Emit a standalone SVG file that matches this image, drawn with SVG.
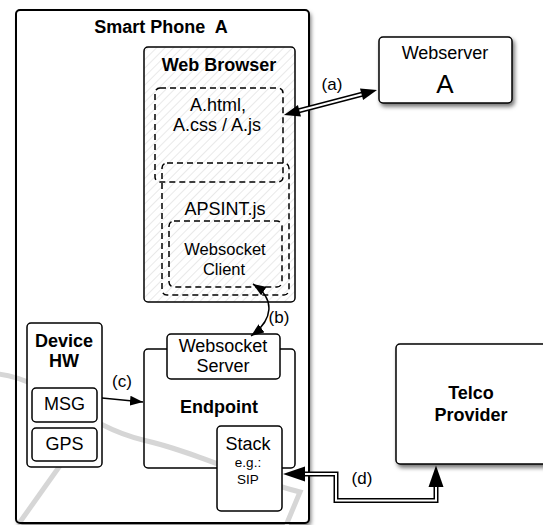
<svg xmlns="http://www.w3.org/2000/svg" width="543" height="525" viewBox="0 0 543 525">
<style>
  .box{fill:#fff;stroke:#000;stroke-width:1.5}
  .dash{fill:none;stroke:#000;stroke-width:1.5;stroke-dasharray:6,4}
  .t{font-family:"Liberation Sans",Arial,sans-serif;font-size:18px;fill:#000;text-anchor:middle}
  .b{font-weight:bold}
  .s{font-size:13.5px}
  .m{font-size:16.5px}
  .line{fill:none;stroke:#000;stroke-width:1.5}
  .dbl-o{fill:none;stroke:#000;stroke-width:5}
  .dbl-i{fill:none;stroke:#fff;stroke-width:2}
  .wm{fill:none;stroke:#d6d6d6;stroke-width:5;stroke-linecap:round;stroke-linejoin:miter}
</style>
<defs>
  <pattern id="hatch" width="6" height="6" patternUnits="userSpaceOnUse" patternTransform="rotate(45)">
    <rect width="6" height="6" fill="#fff"/>
    <line x1="0" y1="0" x2="0" y2="6" stroke="#d4d4d4" stroke-width="1"/>
  </pattern>
  <filter id="sh" x="-10%" y="-10%" width="130%" height="130%">
    <feDropShadow dx="2" dy="3" stdDeviation="2.2" flood-color="#000" flood-opacity="0.55"/>
  </filter>
  <marker id="ah" markerWidth="14" markerHeight="10" refX="13" refY="5" orient="auto-start-reverse" markerUnits="userSpaceOnUse">
    <path d="M0,0 L13,5 L0,10 z" fill="#000"/>
  </marker>
</defs>

<g id="smart-phone-a">
  <rect x="16" y="10" width="293" height="513" rx="4" fill="#fff" filter="url(#sh)"/>
  <g id="watermark">
    <path class="wm" d="M-2,374 C50,380 80,425 143,440 C200,453 250,480 300,492 L287,523"/>
    <path class="wm" d="M20,522 L64,460"/>
  </g>
  <rect x="16" y="10" width="293" height="513" rx="4" fill="none" stroke="#000" stroke-width="2"/>
  <text class="t b" x="161" y="33" xml:space="preserve">Smart Phone  A</text>
</g>

<g id="web-browser">
  <rect x="144" y="47" width="151" height="255" rx="4" fill="url(#hatch)" stroke="#000" stroke-width="1.5"/>
  <text class="t b" x="219" y="71">Web Browser</text>
</g>

<g id="a-html">
  <rect class="dash" x="155" y="88" width="128" height="94" rx="5"/>
  <text class="t" x="218" y="111">A.html,</text>
  <text class="t" x="217" y="131">A.css / A.js</text>
</g>

<g id="apsint-js">
  <rect class="dash" x="162" y="163" width="127" height="132" rx="5"/>
  <text class="t" x="225" y="215">APSINT.js</text>
</g>

<g id="websocket-client">
  <rect class="dash" x="169" y="221" width="113" height="66" rx="5"/>
  <text class="t m" x="225" y="255">Websocket</text>
  <text class="t m" x="224" y="275">Client</text>
</g>

<g id="webserver-a">
  <rect class="box" x="379" y="37" width="133" height="66" rx="4" filter="url(#sh)"/>
  <text class="t" x="445" y="59">Webserver</text>
  <text class="t" x="445" y="93" style="font-size:26px">A</text>
</g>

<g id="endpoint">
  <rect x="144" y="349" width="151" height="119" rx="4" fill="none" stroke="#000" stroke-width="1.5"/>
  <text class="t b" x="219" y="413">Endpoint</text>
</g>

<g id="device-hw">
  <rect class="box" x="27" y="323" width="75" height="144" rx="4"/>
  <text class="t b" x="64" y="347">Device</text>
  <text class="t b" x="64" y="367">HW</text>
</g>

<g id="msg">
  <rect class="box" x="32" y="388" width="65" height="34" rx="4"/>
  <text class="t" x="64.5" y="410">MSG</text>
</g>

<g id="gps">
  <rect class="box" x="32" y="428" width="65" height="33" rx="4"/>
  <text class="t" x="64.5" y="450">GPS</text>
</g>

<g id="websocket-server">
  <rect class="box" x="167" y="334" width="113" height="45" rx="4"/>
  <text class="t" x="223" y="352">Websocket</text>
  <text class="t" x="223" y="372">Server</text>
</g>

<g id="stack">
  <rect class="box" x="217" y="426" width="65" height="85" rx="4"/>
  <text class="t" x="248" y="450">Stack</text>
  <text class="t s" x="248" y="467">e.g.:</text>
  <text class="t s" x="248" y="484">SIP</text>
</g>

<g id="telco-provider">
  <rect class="box" x="396" y="344" width="170" height="120" rx="4" filter="url(#sh)"/>
  <text class="t b" x="471" y="399">Telco</text>
  <text class="t b" x="471" y="421">Provider</text>
</g>

<g id="connectors">
  <!-- (a) -->
  <path class="dbl-o" d="M298,111 L363,94"/>
  <path class="dbl-i" d="M298,111 L363,94"/>
  <polygon points="284,115 301,116.6 297.9,105" fill="#000"/>
  <polygon points="377,90 360,88.4 363.1,100" fill="#000"/>
  <text class="t" x="332" y="90" style="font-size:17px">(a)</text>

  <!-- (b) -->
  <path class="line" d="M253,284 C276,299 273,320 251,336" marker-start="url(#ah)" marker-end="url(#ah)"/>
  <text class="t" x="279" y="323" style="font-size:17px">(b)</text>

  <!-- (c) -->
  <path class="line" d="M102,398 L143,402" marker-end="url(#ah)"/>
  <text class="t" x="122" y="387" style="font-size:17px">(c)</text>

  <!-- (d) -->
  <path class="dbl-o" d="M303,474 H336 V500.5 H436 V486"/>
  <path class="dbl-i" d="M303,474 H336 V500.5 H436 V486"/>
  <polygon points="283,474 305,466.5 305,481.5" fill="#000"/>
  <polygon points="436,465.5 428.5,487 443.5,487" fill="#000"/>
  <text class="t" x="362" y="484" style="font-size:17px">(d)</text>
</g>
</svg>
